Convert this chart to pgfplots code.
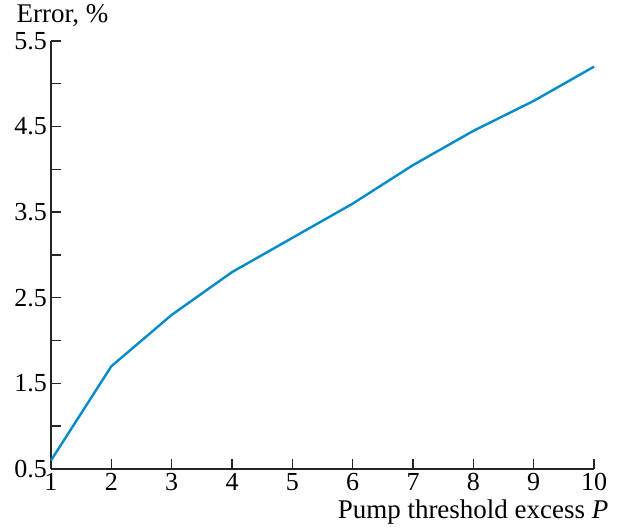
\documentclass[border=0pt]{standalone}
\usepackage{fontspec}
\setmainfont{Liberation Serif}
\usepackage{pgfplots}
\pgfplotsset{compat=1.18}
\definecolor{curve}{RGB}{0,140,200}
\begin{document}
\begin{tikzpicture}
\begin{axis}[
  scale only axis,
  width=543pt, height=428pt,
  xmin=1, xmax=10, ymin=0.5, ymax=5.5,
  axis lines=left,
  axis line style={-, line width=1.6pt, black!85},
  xtick={1,...,10},
  ytick={0.5,1.5,...,5.5},
  minor ytick={1,2,3,4,5},
  yticklabels={0.5,1.5,2.5,3.5,4.5,5.5},
  tick align=inside,
  major tick length=10pt, minor tick length=10pt,
  tick style={line width=1.4pt, black!85},
  every tick label/.style={font=\fontsize{26}{30}\selectfont, inner sep=1pt},
  /pgf/number format/assume math mode=true,
  xticklabel style={yshift=-3pt},
  yticklabel style={xshift=-3pt},
  label style={font=\fontsize{27}{31}\selectfont},
  xlabel={Pump threshold excess \textit{P}},
  xlabel style={at={(axis description cs:1,0)}, anchor=base east, xshift=18pt, yshift=-50pt},
  ylabel={Error, \%},
  ylabel style={rotate=-90, at={(axis description cs:0,1)}, anchor=base west, xshift=-38pt, yshift=18pt},
  clip=false,
]
\addplot[curve, line width=2.4pt] coordinates {
  (1,0.6) (2,1.7) (3,2.3) (4,2.8) (5,3.2) (6,3.6) (7,4.05) (8,4.45) (9,4.8) (10,5.2)
};
% fixed page frame around the axis
\path (rel axis cs:0,0) ++(-51pt,-62pt) coordinate (bl);
\path (rel axis cs:1,1) ++(23pt,41pt) coordinate (tr);
\pgfresetboundingbox
\useasboundingbox (bl) rectangle (tr);
\end{axis}
\end{tikzpicture}
\end{document}
